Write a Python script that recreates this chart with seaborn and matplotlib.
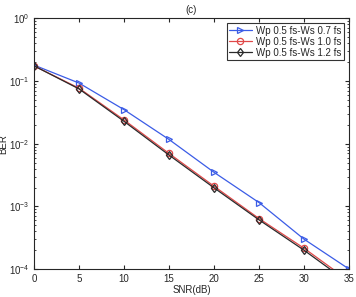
import numpy as np
import pandas as pd
import matplotlib
matplotlib.use('Agg')
import matplotlib.pyplot as plt
import seaborn as sns
from matplotlib import font_manager
from matplotlib.ticker import LogLocator, NullFormatter

snr = [0, 5, 10, 15, 20, 25, 30, 35]
ber_07 = [0.18, 0.093, 0.035, 0.0117, 0.0035, 0.00115, 0.00030, 0.000100]
ber_10 = [0.175, 0.077, 0.0240, 0.0070, 0.00210, 0.00064, 0.000215, 0.000065]
ber_12 = [0.175, 0.075, 0.0228, 0.0066, 0.00198, 0.00061, 0.000200, 0.000060]
labels = ['Wp 0.5 fs-Ws 0.7 fs', 'Wp 0.5 fs-Ws 1.0 fs', 'Wp 0.5 fs-Ws 1.2 fs']

sns.set_style('ticks')
# pick the regular (not narrow) Liberation Sans file
fam = 'DejaVu Sans'
for f in font_manager.fontManager.ttflist:
    if f.name == 'Liberation Sans' and f.stretch == 'normal' and f.style == 'normal' and f.weight in (400, 'normal'):
        font_manager.fontManager.addfont(f.fname)
        fam = 'Liberation Sans'
        break
plt.rcParams['font.family'] = [fam, 'DejaVu Sans']
plt.rcParams['font.stretch'] = 'normal'
plt.rcParams['mathtext.fontset'] = 'custom'
plt.rcParams['mathtext.rm'] = fam

fig = plt.figure(figsize=(3.56, 2.97), dpi=100)
ax = fig.add_axes([0.0955, 0.094, 0.885, 0.844])

styles = [('#3b5ce6', '>'), ('#e04848', 'o'), ('#2a2a2a', 'd')]
for vals, lab, (col, mk) in zip([ber_07, ber_10, ber_12], labels, styles):
    df = pd.DataFrame({'SNR': snr, 'BER': vals})
    sns.lineplot(data=df, x='SNR', y='BER', ax=ax, color=col, marker=mk,
                 markersize=4.5, markerfacecolor='none', markeredgecolor=col,
                 markeredgewidth=0.9, linewidth=0.9, label=lab)

ax.set_yscale('log')
ax.set_xlim(0, 35)
ax.set_ylim(1e-4, 1)
ax.set_xticks([0, 5, 10, 15, 20, 25, 30, 35])
ax.yaxis.set_major_locator(LogLocator(base=10, numticks=10))
ax.yaxis.set_minor_locator(LogLocator(base=10, subs=np.arange(2, 10), numticks=10))
ax.yaxis.set_minor_formatter(NullFormatter())
ax.tick_params(direction='in', which='both', top=True, right=True, labelsize=7)
ax.tick_params(which='major', length=3)
ax.tick_params(which='minor', length=1.5)
for s in ax.spines.values():
    s.set_linewidth(0.8)

ax.set_xlabel('SNR(dB)', fontsize=7, labelpad=1)
ax.set_ylabel('BER', fontsize=7, labelpad=0)
ax.set_title('(c)', fontsize=7, pad=4)

leg = ax.legend(loc='upper right', fontsize=7, frameon=True, fancybox=False,
                edgecolor='black', borderpad=0.25, labelspacing=0.1,
                handlelength=2.3, handletextpad=0.5, borderaxespad=0.5)
leg.get_frame().set_linewidth(0.8)

fig.savefig('out.png', dpi=100)
